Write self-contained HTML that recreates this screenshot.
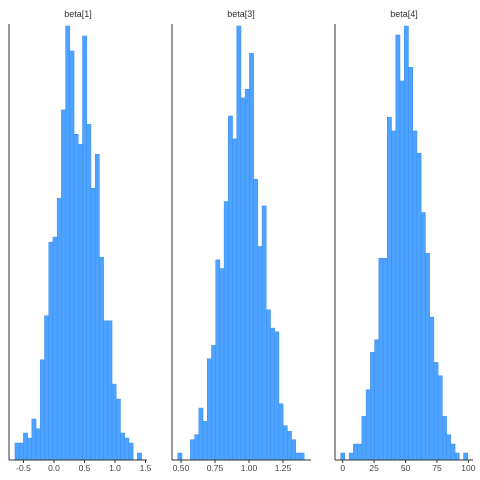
<!DOCTYPE html>
<html><head><meta charset="utf-8"><style>
body{margin:0;background:#fff}
svg{display:block;font-family:"Liberation Sans",sans-serif}
</style></head><body>
<svg id="c" width="480" height="480"></svg>
<script>
const titles = ["beta[1]","beta[3]","beta[4]"];
const counts1 = [51,51,81,66,123,94,301,433,654,669,786,1051,1303,1228,978,948,1273,1008,816,918,609,418,418,228,183,81,66,51,0,21];
const counts2 = [21,0,0,61,76,156,116,304,344,601,575,776,1033,964,1303,1087,1113,1221,843,641,763,451,396,385,169,103,86,61,21,21];
const counts3 = [21,0,21,48,48,131,211,323,361,606,606,1029,988,1276,1138,1303,1179,988,921,743,621,429,293,253,131,76,48,21,0,21];
const binStarts = [-0.64, 0.476, -1.6];
const binWidths = [0.0692, 0.031, 3.37];
const ticks1 = [-0.5,0,0.5,1,1.5];
const tickLabels1 = ["-0.5","0.0","0.5","1.0","1.5"];
const ticks2 = [0.5,0.75,1,1.25];
const tickLabels2 = ["0.50","0.75","1.00","1.25"];
const ticks3 = [0,25,50,75,100];
const tickLabels3 = ["0","25","50","75","100"];

const svgEl=document.getElementById('c');
const NS="http://www.w3.org/2000/svg";
function mk(t,a){const e=document.createElementNS(NS,t);for(const k in a)e.setAttribute(k,a[k]);svgEl.appendChild(e);return e;}
const panels=[
 {counts:counts1,ticks:ticks1,labels:tickLabels1,ax:9,right:147,x0:54,k:61,v0:0,tx:78},
 {counts:counts2,ticks:ticks2,labels:tickLabels2,ax:172,right:311,x0:181,k:136,v0:0.5,tx:241},
 {counts:counts3,ticks:ticks3,labels:tickLabels3,ax:335,right:473,x0:342.7,k:1.257,v0:0,tx:404}
];
const baseY=460, topY=26;
const maxC=Math.max(...counts1,...counts2,...counts3);
const yS=c=>baseY-(baseY-topY)*c/maxC;
panels.forEach((p,i)=>{
  const xS=v=>p.x0+p.k*(v-p.v0);
  const t=mk('text',{x:p.tx,y:17,'text-anchor':'middle','font-size':9,fill:'#333'});
  t.textContent=titles[i];
  
  
  p.counts.forEach((c,j)=>{
    if(c<=0)return;
    const a=xS(binStarts[i]+j*binWidths[i]), b=xS(binStarts[i]+(j+1)*binWidths[i]);
    const r=mk('rect',{x:a,y:yS(c),width:b-a,height:baseY-yS(c),fill:'#4da3ff',stroke:'#3a8ef0','stroke-width':0.5});
    
    
  });
  const yl=mk('line',{x1:p.ax,y1:24,x2:p.ax,y2:baseY,stroke:'#333','stroke-width':1});
  
  
  const xl=mk('line',{x1:p.ax,y1:baseY,x2:p.right,y2:baseY,stroke:'#333','stroke-width':1});
  
  
  p.ticks.forEach((v,j)=>{
    const x=xS(v);
    const tk=mk('line',{x1:x,y1:baseY,x2:x,y2:baseY+3,stroke:'#333','stroke-width':1});
    
    
    const tl=mk('text',{x:x,y:471,'text-anchor':'middle','font-size':8.5,fill:'#444'});
    tl.textContent=p.labels[j];
    
    
  });
});
</script>
</body></html>
